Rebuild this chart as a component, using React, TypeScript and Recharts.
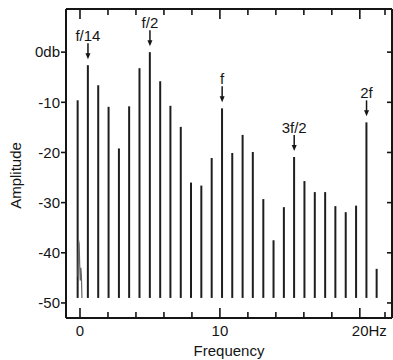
import React from 'react';
import { ComposedChart, Bar, Line, Scatter, XAxis, YAxis } from 'recharts';

// harmonic lines, frequency in Hz and peak amplitude in db
const freqs = [-0.16, 0.57, 1.31, 2.05, 2.79, 3.52, 4.26, 5.0, 5.74, 6.47, 7.21, 7.94, 8.68, 9.42, 10.16,
  10.89, 11.63, 12.36, 13.11, 13.84, 14.58, 15.31, 16.05, 16.79, 17.53, 18.26, 19.0, 19.74, 20.48, 21.21];
const peaks = [-9.6, -2.6, -6.6, -10.9, -19.2, -10.8, -3.2, 0, -5.8, -10.7, -14.9, -26.0, -26.6, -21.1, -11.2,
  -20.1, -16.5, -19.9, -29.3, -37.5, -30.9, -20.9, -25.7, -27.9, -27.9, -30.7, -31.9, -30.6, -14.0, -43.2];
const floorDb = -49;

// low-level noise near DC
const noiseFreqs = [-0.14, -0.1, -0.06, -0.02, 0.02, 0.06, 0.1, 0.14];
const noiseAmps = [-44.8, -37.5, -38.2, -42.5, -45.5, -43.0, -44.5, -49];

// arrows
const annIndex = [1, 7, 14, 21, 28];
const annText = ['f/14', 'f/2', 'f', '3f/2', '2f'];

const xTicks = [0, 2, 4, 6, 8, 10, 12, 14, 16, 18, 20, 22];
const yTicks = [0, -10, -20, -30, -40, -50];

const spikes = freqs.map((f, i) => ({ freq: f, range: [floorDb, peaks[i]] }));
const noise = noiseFreqs.map((f, i) => ({ freq: f, amp: noiseAmps[i] }));
const notes = annIndex.map((idx, i) => ({ freq: freqs[idx], amp: peaks[idx], label: annText[i] }));

const FONT = '"Liberation Sans", Arial, sans-serif';
const INK = '#151515';

const BottomTick = (props: any) => {
  const { x, y, payload } = props;
  const v = payload.value;
  const major = v % 10 === 0;
  return (
    <g>
      <line x1={x} x2={x} y1={y} y2={y - (major ? 10 : 6)} stroke={INK} strokeWidth={1.6} />
      {major && (
        <text x={v === 20 ? x - 8 : x} y={y + 18} textAnchor={v === 20 ? 'start' : 'middle'}
          fontFamily={FONT} fontSize={15} fill={INK}>
          {v === 20 ? '20Hz' : String(v)}
        </text>
      )}
    </g>
  );
};

const TopTick = (props: any) => {
  const { x, y, payload } = props;
  const major = payload.value % 10 === 0;
  return <line x1={x} x2={x} y1={y} y2={y + (major ? 10 : 6)} stroke={INK} strokeWidth={1.6} />;
};

const RightTick = (props: any) => {
  const { x, y } = props;
  return <line x1={x} x2={x - 5} y1={y} y2={y} stroke={INK} strokeWidth={1.6} />;
};

const Note = (props: any) => {
  const { cx, cy, payload } = props;
  const tip = cy - 6;
  const start = tip - 16;
  return (
    <g>
      <line x1={cx} x2={cx} y1={start} y2={tip - 4} stroke={INK} strokeWidth={1.5} />
      <polygon points={`${cx - 2.5},${tip - 6} ${cx + 2.5},${tip - 6} ${cx},${tip}`} fill={INK} />
      <text x={cx} y={start - 2} textAnchor="middle" fontFamily={FONT} fontSize={15} fill={INK}>
        {payload.label}
      </text>
    </g>
  );
};

export default function App() {
  return (
    <div style={{ position: 'absolute', left: 0, top: 0, width: 393, height: 360, background: '#fff' }}>
      <ComposedChart width={393} height={360} data={spikes} margin={{ top: 8, right: 0, left: 0, bottom: 0 }}>
        <XAxis dataKey="freq" type="number" domain={[-1, 22.3]} allowDataOverflow ticks={xTicks}
          height={42} tickSize={0} tickMargin={0} tickLine={false} tick={<BottomTick />}
          axisLine={{ stroke: INK, strokeWidth: 2 }}
          label={{ value: 'Frequency', position: 'insideBottom', offset: 4, fontFamily: FONT, fontSize: 15, fill: INK }} />
        <XAxis xAxisId="top" orientation="top" dataKey="freq" type="number" domain={[-1, 22.3]} allowDataOverflow
          ticks={xTicks} height={1} tickSize={0} tickMargin={0} tickLine={false} tick={<TopTick />}
          axisLine={{ stroke: INK, strokeWidth: 2 }} />
        <YAxis type="number" domain={[-53, 8.6]} allowDataOverflow ticks={yTicks} width={66}
          tickSize={5} tickMargin={1} tickLine={{ stroke: INK, strokeWidth: 1.6 }}
          axisLine={{ stroke: INK, strokeWidth: 2 }}
          tick={{ fontFamily: FONT, fontSize: 15, fill: INK }}
          tickFormatter={(v: number) => (v === 0 ? '0db' : String(v))}
          label={{
            content: (p: any) => {
              const vb = p.viewBox || { x: 0, y: 9, height: 309 };
              const cy = vb.y + vb.height / 2 + 12;
              return (
                <text x={15} y={cy} transform={`rotate(-90 15 ${cy})`} textAnchor="middle"
                  dominantBaseline="central" fontFamily={FONT} fontSize={15} fill={INK}>
                  Amplitude
                </text>
              );
            },
          }} />
        <YAxis yAxisId="right" orientation="right" type="number" domain={[-53, 8.6]} allowDataOverflow
          ticks={yTicks} width={1} tickSize={0} tickMargin={0} tickLine={false} tick={<RightTick />}
          axisLine={{ stroke: INK, strokeWidth: 2 }} />
        <Bar dataKey="range" fill="#1e1e1e" barSize={2} isAnimationActive={false} />
        <Line data={noise} xAxisId="top" yAxisId="right" dataKey="amp" type="linear" stroke="#666"
          strokeWidth={1.2} dot={false} isAnimationActive={false} />
        <Scatter data={notes} dataKey="amp" shape={<Note />} isAnimationActive={false} />
      </ComposedChart>
    </div>
  );
}
